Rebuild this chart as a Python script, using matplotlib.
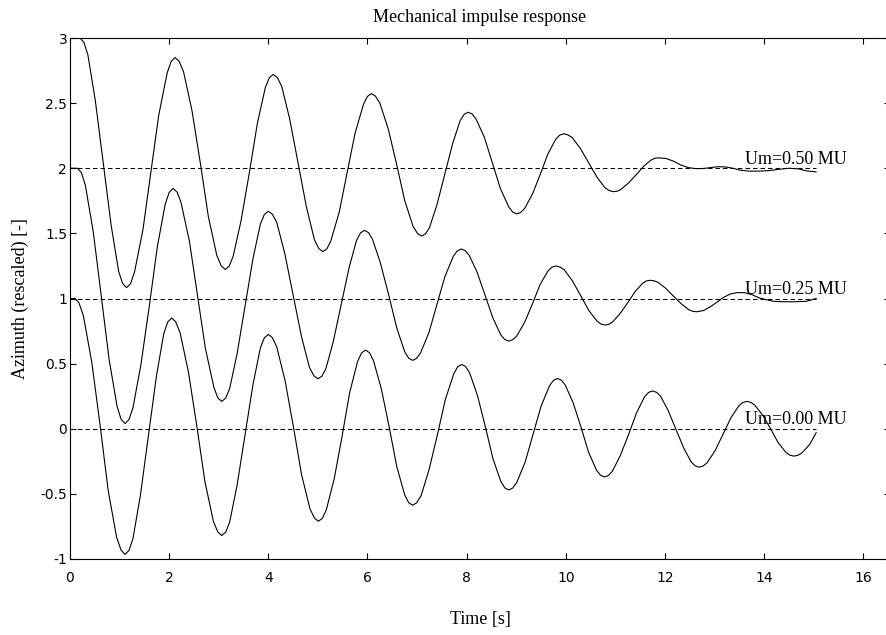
import matplotlib
matplotlib.use('Agg')
import matplotlib.pyplot as plt

# curves (time [s], rescaled azimuth)
t_um000 = [0.0, 0.1,
           0.18, 0.27, 0.44, 0.61, 0.77, 0.94, 1.03, 1.11,
           1.19, 1.27, 1.42, 1.58, 1.74, 1.89, 1.97, 2.05,
           2.13, 2.22, 2.39, 2.56, 2.72, 2.89, 2.98, 3.06,
           3.14, 3.22, 3.37, 3.53, 3.69, 3.84, 3.92, 4.0,
           4.08, 4.17, 4.34, 4.51, 4.67, 4.84, 4.93, 5.01,
           5.09, 5.17, 5.33, 5.49, 5.64, 5.80, 5.88, 5.96,
           6.04, 6.12, 6.28, 6.44, 6.59, 6.75, 6.83, 6.91,
           6.99, 7.08, 7.24, 7.41, 7.57, 7.74, 7.82, 7.9,
           7.98, 8.06, 8.22, 8.38, 8.53, 8.69, 8.77, 8.85,
           8.93, 9.01, 9.18, 9.34, 9.50, 9.67, 9.75, 9.83,
           9.91, 9.99, 10.15, 10.31, 10.46, 10.62, 10.70, 10.78,
           10.86, 10.94, 11.10, 11.27, 11.43, 11.59, 11.67, 11.75,
           11.83, 11.91, 12.06, 12.22, 12.38, 12.53, 12.61, 12.69,
           12.77, 12.85, 13.01, 13.17, 13.33, 13.49, 13.57, 13.65,
           13.73, 13.81, 13.97, 14.13, 14.28, 14.44, 14.52, 14.6,
           14.68, 14.76, 14.92, 15.05]
y_um000 = [1.0, 1.0,
           0.967, 0.868, 0.509, 0.018, -0.474, -0.833, -0.932, -0.965,
           -0.934, -0.843, -0.511, -0.058, 0.396, 0.728, 0.819, 0.85,
           0.822, 0.738, 0.433, 0.015, -0.403, -0.708, -0.792, -0.82,
           -0.794, -0.717, -0.434, -0.048, 0.338, 0.621, 0.698, 0.724,
           0.7, 0.628, 0.366, 0.007, -0.352, -0.614, -0.686, -0.71,
           -0.688, -0.622, -0.382, -0.053, 0.276, 0.516, 0.582, 0.604,
           0.584, 0.524, 0.306, 0.009, -0.289, -0.507, -0.567, -0.587,
           -0.569, -0.515, -0.317, -0.047, 0.224, 0.422, 0.476, 0.494,
           0.478, 0.429, 0.253, 0.012, -0.229, -0.405, -0.454, -0.47,
           -0.455, -0.413, -0.256, -0.042, 0.172, 0.329, 0.371, 0.386,
           0.373, 0.335, 0.197, 0.008, -0.181, -0.319, -0.357, -0.37,
           -0.359, -0.326, -0.205, -0.04, 0.125, 0.246, 0.279, 0.29,
           0.28, 0.251, 0.144, -0.003, -0.149, -0.256, -0.285, -0.295,
           -0.286, -0.261, -0.169, -0.043, 0.084, 0.176, 0.201, 0.21,
           0.203, 0.182, 0.105, 0.0, -0.105, -0.182, -0.203, -0.21,
           -0.204, -0.186, -0.12, -0.03]

t_um025 = [0.0, 0.15,
           0.23, 0.31, 0.47, 0.63, 0.79, 0.95, 1.03, 1.11,
           1.19, 1.27, 1.43, 1.60, 1.76, 1.92, 2.0, 2.08,
           2.16, 2.24, 2.41, 2.57, 2.73, 2.90, 2.98, 3.06,
           3.14, 3.22, 3.37, 3.53, 3.69, 3.84, 3.92, 4.0,
           4.08, 4.17, 4.33, 4.5, 4.67, 4.83, 4.92, 5.0,
           5.08, 5.16, 5.31, 5.47, 5.63, 5.78, 5.86, 5.94,
           6.02, 6.10, 6.26, 6.43, 6.59, 6.75, 6.83, 6.91,
           6.99, 7.07, 7.24, 7.40, 7.56, 7.73, 7.81, 7.89,
           7.97, 8.05, 8.21, 8.37, 8.53, 8.69, 8.77, 8.85,
           8.93, 9.01, 9.17, 9.33, 9.48, 9.64, 9.72, 9.8,
           9.88, 9.97, 10.13, 10.30, 10.46, 10.63, 10.71, 10.79,
           10.87, 10.94, 11.09, 11.25, 11.40, 11.55, 11.62, 11.7,
           11.78, 11.86, 12.01, 12.17, 12.33, 12.48, 12.56, 12.64,
           12.78, 12.91, 13.05, 13.18, 13.32, 13.45, 13.6, 13.75,
           13.9, 14.05, 14.2, 14.4, 14.6, 14.85, 15.05]
y_um025 = [2.0, 2.0,
           1.967, 1.869, 1.51, 1.02, 0.53, 0.171, 0.073, 0.04,
           0.071, 0.161, 0.491, 0.943, 1.394, 1.724, 1.814, 1.845,
           1.817, 1.736, 1.436, 1.028, 0.619, 0.32, 0.238, 0.21,
           0.235, 0.308, 0.575, 0.94, 1.305, 1.572, 1.645, 1.67,
           1.648, 1.584, 1.349, 1.027, 0.706, 0.47, 0.406, 0.384,
           0.403, 0.46, 0.669, 0.954, 1.238, 1.447, 1.504, 1.523,
           1.506, 1.456, 1.274, 1.024, 0.775, 0.592, 0.542, 0.525,
           0.54, 0.582, 0.739, 0.953, 1.166, 1.323, 1.365, 1.38,
           1.368, 1.333, 1.203, 1.027, 0.85, 0.72, 0.685, 0.673,
           0.683, 0.712, 0.817, 0.962, 1.106, 1.211, 1.24, 1.25,
           1.242, 1.22, 1.137, 1.023, 0.91, 0.826, 0.804, 0.796,
           0.802, 0.819, 0.882, 0.968, 1.054, 1.117, 1.134, 1.14,
           1.136, 1.124, 1.08, 1.019, 0.959, 0.914, 0.902, 0.898,
           0.908, 0.935, 0.972, 1.008, 1.035, 1.045, 1.045, 1.03,
           1.005, 0.99, 0.978, 0.975, 0.975, 0.978, 1.0]

t_um050 = [0.0, 0.2,
           0.28, 0.36, 0.51, 0.67, 0.83, 0.98, 1.06, 1.14,
           1.22, 1.30, 1.47, 1.63, 1.79, 1.96, 2.04, 2.12,
           2.20, 2.29, 2.46, 2.63, 2.79, 2.96, 3.05, 3.13,
           3.21, 3.29, 3.45, 3.62, 3.78, 3.94, 4.02, 4.1,
           4.18, 4.27, 4.43, 4.6, 4.77, 4.93, 5.02, 5.1,
           5.18, 5.26, 5.43, 5.59, 5.75, 5.92, 6.0, 6.08,
           6.16, 6.25, 6.42, 6.59, 6.75, 6.92, 7.01, 7.09,
           7.17, 7.25, 7.40, 7.56, 7.72, 7.87, 7.95, 8.03,
           8.11, 8.19, 8.36, 8.52, 8.68, 8.85, 8.93, 9.01,
           9.09, 9.17, 9.33, 9.49, 9.64, 9.80, 9.88, 9.96,
           10.04, 10.13, 10.29, 10.46, 10.63, 10.79, 10.88, 10.96,
           11.04, 11.11, 11.26, 11.42, 11.57, 11.72, 11.79, 11.87,
           12.02, 12.17, 12.32, 12.47, 12.62, 12.77, 12.92, 13.07,
           13.22, 13.37, 13.52, 13.7, 13.9, 14.1, 14.3, 14.5,
           14.7, 14.85, 15.05]
y_um050 = [3.0, 3.0,
           2.967, 2.872, 2.521, 2.042, 1.562, 1.211, 1.116, 1.083,
           1.113, 1.201, 1.525, 1.967, 2.408, 2.732, 2.82, 2.85,
           2.822, 2.741, 2.443, 2.037, 1.63, 1.332, 1.251, 1.223,
           1.248, 1.323, 1.597, 1.972, 2.346, 2.62, 2.695, 2.72,
           2.697, 2.629, 2.38, 2.04, 1.70, 1.451, 1.383, 1.36,
           1.381, 1.441, 1.663, 1.967, 2.27, 2.492, 2.552, 2.573,
           2.554, 2.5, 2.3, 2.027, 1.753, 1.553, 1.499, 1.48,
           1.496, 1.544, 1.718, 1.955, 2.193, 2.366, 2.414, 2.43,
           2.417, 2.378, 2.235, 2.04, 1.845, 1.702, 1.663, 1.65,
           1.66, 1.691, 1.804, 1.958, 2.111, 2.224, 2.255, 2.265,
           2.257, 2.235, 2.154, 2.043, 1.931, 1.85, 1.828, 1.82,
           1.824, 1.837, 1.885, 1.95, 2.015, 2.063, 2.076, 2.08,
           2.075, 2.055, 2.025, 2.005, 1.997, 1.998, 2.005, 2.012,
           2.01, 2.0, 1.985, 1.978, 1.978, 1.982, 1.992, 2.0,
           1.995, 1.98, 1.972]

baselines = [0, 1, 2]
curve_labels = ['Um=0.00 MU', 'Um=0.25 MU', 'Um=0.50 MU']
t_end = 15.05

xticks = [0, 2, 4, 6, 8, 10, 12, 14, 16]
yticks = [-1, -0.5, 0, 0.5, 1, 1.5, 2, 2.5, 3]
ytick_labels = ['-1', '-0.5', '0', '0.5', '1', '1.5', '2', '2.5', '3']

serif = ['Liberation Serif', 'DejaVu Serif']

fig = plt.figure(figsize=(8.86, 6.35), dpi=100)
ax = fig.add_axes([70/886, 76/635, 820/886, 521/635])

# reference lines at each offset
for b in baselines:
    ax.plot([0, t_end], [b, b], color='black', lw=0.75, dashes=(4.3, 2.9))

for t, y in [(t_um000, y_um000), (t_um025, y_um025), (t_um050, y_um050)]:
    ax.plot(t, y, color='black', lw=0.8)

for b, lab in zip(baselines, curve_labels):
    ax.text(13.62, b + 0.035, lab, family=serif, fontsize=13, va='baseline', ha='left')

ax.set_xlim(0, 820/49.58)
ax.set_ylim(-1, 3)
ax.set_xticks(xticks)
ax.set_yticks(yticks)
ax.set_yticklabels(ytick_labels)
ax.tick_params(direction='in', length=4, width=0.8, top=True, right=True,
               labelsize=10, colors='black')
ax.tick_params(axis='x', pad=9)
ax.tick_params(axis='y', pad=2)
for s in ax.spines.values():
    s.set_linewidth(0.8)

ax.set_title('Mechanical impulse response', family=serif, fontsize=13, pad=11.5)
ax.set_xlabel('Time [s]', family=serif, fontsize=13)
ax.set_ylabel('Azimuth (rescaled) [-]', family=serif, fontsize=13)
ax.xaxis.set_label_coords(0.5, -0.1)
ax.yaxis.set_label_coords(-0.05, 0.5)

fig.savefig('out.png', dpi=100)
